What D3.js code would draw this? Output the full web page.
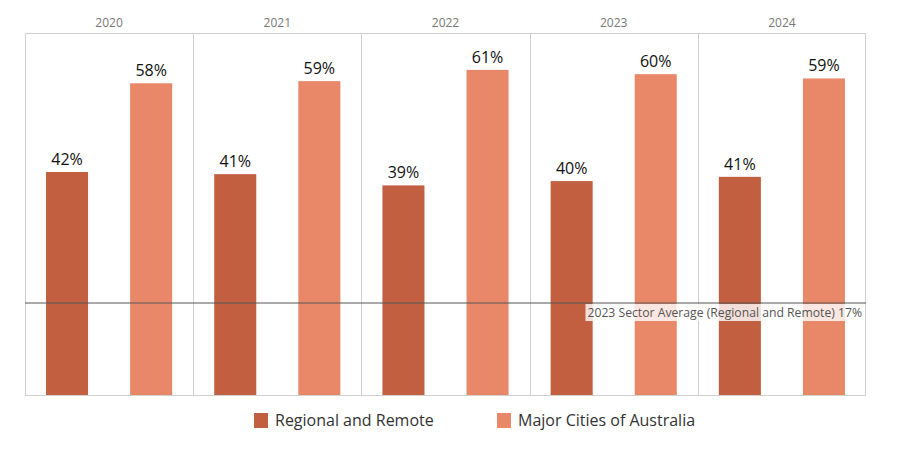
<!DOCTYPE html>
<html>
<head>
<meta charset="utf-8">
<script src="https://cdn.jsdelivr.net/npm/d3@7"></script>
<style>
  body { margin: 0; background: #fff; }
  svg { display: block; font-family: "Open Sans", "DejaVu Sans", sans-serif; }
</style>
</head>
<body>
<svg width="898" height="450"></svg>
<script>
// data (share of students, %)
var years = ["2020", "2021", "2022", "2023", "2024"]
var series = ["Regional and Remote", "Major Cities of Australia"]
var regional = [41.7, 41.3, 39.2, 40.0, 40.8]
var major = [58.3, 58.7, 60.8, 60.0, 59.2]
var refValue = 17.2
var refLabel = "2023 Sector Average (Regional and Remote) 17%"

var colors = { "Regional and Remote": "#c25f40", "Major Cities of Australia": "#e88869" }

var svg = d3.select("svg")
var mLeft = 25, mRight = 866, mTop = 33, mBottom = 395

var x = d3.scaleBand().domain(years).range([mLeft, mRight]).padding(0)
var xs = d3.scaleBand().domain(series).range([0, x.bandwidth()])
    .paddingInner(0.5).paddingOuter(0.25)
var y = d3.scaleLinear().domain([0, 67.7]).range([mBottom, mTop])

var rows = years.map(function(yr, i) {
    return { year: yr, values: [
        { key: series[0], v: regional[i] },
        { key: series[1], v: major[i] }
    ] }
})

// panel frames
svg.append("rect")
    .attr("x", mLeft + 0.5).attr("y", mTop + 0.5)
    .attr("width", mRight - mLeft - 1).attr("height", mBottom - mTop)
    .attr("fill", "none").attr("stroke", "#d0d0d0")
svg.selectAll("line.div").data(years.slice(1)).enter().append("line")
    .attr("class", "div")
    .attr("x1", function(d) { return Math.round(x(d)) + 0.5 })
    .attr("x2", function(d) { return Math.round(x(d)) + 0.5 })
    .attr("y1", mTop).attr("y2", mBottom)
    .attr("stroke", "#d0d0d0")

// year headers
svg.selectAll("text.year").data(years).enter().append("text")
    .attr("class", "year")
    .attr("x", function(d) { return x(d) + x.bandwidth() / 2 })
    .attr("y", 27)
    .attr("text-anchor", "middle")
    .attr("font-size", 12)
    .attr("fill", "#777")
    .text(function(d) { return d })

var g = svg.selectAll("g.panel").data(rows).enter().append("g")
    .attr("class", "panel")
    .attr("transform", function(d) { return "translate(" + x(d.year) + ",0)" })

g.selectAll("rect").data(function(d) { return d.values }).enter().append("rect")
    .attr("x", function(d) { return xs(d.key) })
    .attr("width", xs.bandwidth())
    .attr("y", function(d) { return y(d.v) })
    .attr("height", function(d) { return y(0) - y(d.v) })
    .attr("fill", function(d) { return colors[d.key] })

g.selectAll("text").data(function(d) { return d.values }).enter().append("text")
    .attr("x", function(d) { return xs(d.key) + xs.bandwidth() / 2 })
    .attr("y", function(d) { return y(d.v) - 7 })
    .attr("text-anchor", "middle")
    .attr("font-size", 16)
    .attr("fill", "#111")
    .text(function(d) { return d3.format(".0f")(d.v) + "%" })

// reference line
svg.append("line")
    .attr("x1", mLeft).attr("x2", mRight)
    .attr("y1", y(refValue)).attr("y2", y(refValue))
    .attr("stroke", "#555").attr("stroke-opacity", 0.5).attr("stroke-width", 2)

var refText = svg.append("text")
    .attr("x", 862).attr("y", y(refValue) + 14)
    .attr("text-anchor", "end")
    .attr("font-size", 12.2)
    .attr("fill", "#555")
    .text(refLabel)
var bb = refText.node().getBBox()
svg.insert("rect", function() { return refText.node() })
    .attr("x", bb.x - 2).attr("y", bb.y)
    .attr("width", bb.width + 4).attr("height", bb.height)
    .attr("fill", "#fff").attr("fill-opacity", 0.8)

// legend
var legend = svg.append("g")
var lx = [254, 497]
series.forEach(function(s, i) {
    legend.append("rect")
        .attr("x", lx[i]).attr("y", 413)
        .attr("width", 14).attr("height", 15)
        .attr("fill", colors[s])
    legend.append("text")
        .attr("x", lx[i] + 21).attr("y", 426)
        .attr("font-size", 16)
        .attr("fill", "#333")
        .text(s)
})
</script>
</body>
</html>
